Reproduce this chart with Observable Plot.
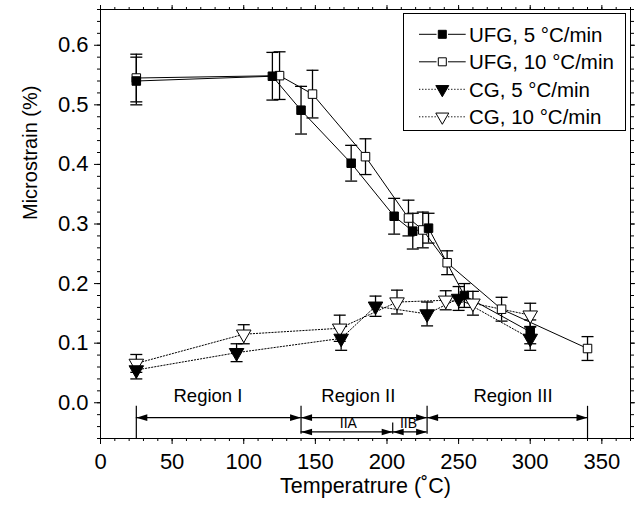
<!DOCTYPE html>
<html><head><meta charset="utf-8">
<script src="https://cdn.jsdelivr.net/npm/d3@7"></script>
<script src="https://cdn.jsdelivr.net/npm/@observablehq/plot@0.6"></script>
<style>
body{margin:0;background:#fff;}
#wrap{position:relative;width:635px;height:506px;font-family:"Liberation Sans",Arial,Helvetica,sans-serif;}
#legend{position:absolute;left:403px;top:13px;}
</style></head><body><div id="wrap"></div>
<script>
// ---- data (temperature °C, microstrain %, error %) ----
const seriesNames = ["UFG, 5 °C/min", "UFG, 10 °C/min", "CG, 5 °C/min", "CG, 10 °C/min"];

const ufg5T = [25, 120, 140, 175, 205, 218, 229, 254, 300];
const ufg5V = [0.540, 0.548, 0.491, 0.402, 0.313, 0.288, 0.293, 0.180, 0.119];
const ufg5E = [0.04, 0.04, 0.04, 0.03, 0.03, 0.03, 0.025, 0.02, 0.02];

const ufg10T = [25, 125, 148, 185, 215, 225, 242, 280, 340];
const ufg10V = [0.545, 0.549, 0.518, 0.413, 0.310, 0.290, 0.235, 0.157, 0.091];
const ufg10E = [0.04, 0.04, 0.04, 0.03, 0.03, 0.03, 0.02, 0.02, 0.02];

const cg5T = [25, 95, 168, 192, 228, 250, 300];
const cg5V = [0.055, 0.084, 0.108, 0.162, 0.149, 0.175, 0.108];
const cg5E = [0.015, 0.015, 0.02, 0.017, 0.02, 0.02, 0.02];

const cg10T = [25, 100, 167, 207, 241, 260, 300];
const cg10V = [0.066, 0.115, 0.125, 0.169, 0.172, 0.167, 0.147];
const cg10E = [0.015, 0.016, 0.022, 0.02, 0.016, 0.02, 0.02];

const xMajorTicks = [0, 50, 100, 150, 200, 250, 300, 350];
const yMajorTicks = [0.0, 0.1, 0.2, 0.3, 0.4, 0.5, 0.6];

// region annotation data
const regionBounds = [25, 140, 228, 340];
const regionNames = ["Region I", "Region II", "Region III"];
const regionLabelT = [75, 180, 288];
const subBounds = [140, 204, 228];
const subNames = ["IIA", "IIB"];
const subLabelT = [173, 215];
const regionArrowLevel = -0.025, subArrowLevel = -0.049;
const regionLabelLevel = 0.011, subLabelLevel = -0.035;
const lineTopLevel = -0.006, subLineTopLevel = -0.034, lineBottomLevel = -0.053;

// ---- build tables ----
function rows(name, T, V, E) { return T.map((t, i) => ({series: name, T: t, V: V[i], E: E[i]})); }
const ufg5 = rows(seriesNames[0], ufg5T, ufg5V, ufg5E);
const ufg10 = rows(seriesNames[1], ufg10T, ufg10V, ufg10E);
const cg5 = rows(seriesNames[2], cg5T, cg5V, cg5E);
const cg10 = rows(seriesNames[3], cg10T, cg10V, cg10E);
const all = [...ufg5, ...ufg10, ...cg5, ...cg10];
const caps = all.flatMap(d => [{T: d.T, V: d.V - d.E}, {T: d.T, V: d.V + d.E}]);

const intervals = [];
for (let i = 0; i < regionBounds.length - 1; i++) intervals.push({a: regionBounds[i], b: regionBounds[i + 1], V: regionArrowLevel});
for (let i = 0; i < subBounds.length - 1; i++) intervals.push({a: subBounds[i], b: subBounds[i + 1], V: subArrowLevel});
const headsL = intervals.map(d => ({T: d.a, V: d.V}));
const headsR = intervals.map(d => ({T: d.b, V: d.V}));
const vlines = [
  ...regionBounds.map((t, i) => ({T: t, y1: lineTopLevel, y2: (i === 0 || i === regionBounds.length - 1) ? -0.06 : lineBottomLevel})),
  ...subBounds.slice(1, -1).map(t => ({T: t, y1: subLineTopLevel, y2: lineBottomLevel}))
];
const regionLabels = regionNames.map((n, i) => ({name: n, T: regionLabelT[i], V: regionLabelLevel}));
const subLabels = subNames.map((n, i) => ({name: n, T: subLabelT[i], V: subLabelLevel}));

// custom symbols
const capSym = {draw(ctx) { ctx.moveTo(-6, 0); ctx.lineTo(6, 0); }};
const headRight = {draw(ctx) { ctx.moveTo(0, 0); ctx.lineTo(-11, -3.3); ctx.lineTo(-11, 3.3); ctx.closePath(); }};
const headLeft = {draw(ctx) { ctx.moveTo(0, 0); ctx.lineTo(11, -3.3); ctx.lineTo(11, 3.3); ctx.closePath(); }};

const font = "'Liberation Sans', Arial, Helvetica, sans-serif";

const chart = Plot.plot({
  width: 635, height: 506,
  marginLeft: 100, marginRight: 5, marginTop: 9, marginBottom: 68,
  style: {fontFamily: font, color: "black", background: "white", overflow: "visible"},
  x: {domain: [0, 370]},
  y: {domain: [-0.06, 0.66]},
  marks: [
    Plot.frame({stroke: "black", strokeWidth: 1}),
    // axes
    Plot.axisY({ticks: yMajorTicks, tickFormat: d3.format(".1f"), tickSize: 6, tickPadding: 6, fontSize: 22, label: null}),
    Plot.axisY({ticks: d3.range(-0.06, 0.661, 0.02), tickSize: 3, text: null, label: null}),
    Plot.axisY({anchor: "right", ticks: yMajorTicks, tickSize: 5, text: null, label: null}),
    Plot.axisY({anchor: "right", ticks: d3.range(-0.06, 0.661, 0.02), tickSize: 3, text: null, label: null}),
    Plot.axisX({ticks: xMajorTicks, tickSize: 6, tickPadding: 9, fontSize: 22, label: null}),
    Plot.axisX({ticks: d3.range(0, 371, 10), tickSize: 3, text: null, label: null}),
    Plot.axisX({anchor: "top", ticks: xMajorTicks, tickSize: 5, text: null, label: null}),
    Plot.axisX({anchor: "top", ticks: d3.range(0, 371, 10), tickSize: 3, text: null, label: null}),
    Plot.text(["Temperatrure (˚C)"], {frameAnchor: "bottom", dy: 54, fontSize: 21.5}),
    Plot.text(["Microstrain (%)"], {frameAnchor: "left", rotate: -90, dx: -70, dy: -4, fontSize: 20}),
    // region annotations
    Plot.ruleX(vlines, {x: "T", y1: "y1", y2: "y2", stroke: "black", strokeWidth: 1.2}),
    Plot.ruleY(intervals, {y: "V", x1: "a", x2: "b", stroke: "black", strokeWidth: 1.2}),
    Plot.dot(headsL, {x: "T", y: "V", symbol: headLeft, fill: "black", stroke: "none"}),
    Plot.dot(headsR, {x: "T", y: "V", symbol: headRight, fill: "black", stroke: "none"}),
    Plot.text(regionLabels, {x: "T", y: "V", text: "name", fontSize: 18.5}),
    Plot.text(subLabels, {x: "T", y: "V", text: "name", fontSize: 14, fill: "black"}),
    // data lines
    Plot.line([...ufg5, ...ufg10], {x: "T", y: "V", z: "series", stroke: "black", strokeWidth: 1}),
    Plot.line([...cg5, ...cg10], {x: "T", y: "V", z: "series", stroke: "black", strokeWidth: 1, strokeDasharray: "1.3,1.8"}),
    // error bars
    Plot.ruleX(all, {x: "T", y1: d => d.V - d.E, y2: d => d.V + d.E, stroke: "black", strokeWidth: 1.3}),
    Plot.dot(caps, {x: "T", y: "V", symbol: capSym, stroke: "black", strokeWidth: 1.3, fill: "none"}),
    // markers
    Plot.dot(ufg10, {x: "T", y: "V", symbol: "square", r: 4.8, fill: "white", stroke: "black", strokeWidth: 1}),
    Plot.dot(ufg5, {x: "T", y: "V", symbol: "square", r: 4.8, fill: "black", stroke: "black", strokeWidth: 1}),
    Plot.dot(cg10, {x: "T", y: "V", symbol: "triangle", rotate: 180, r: 5.4, fill: "white", stroke: "black", strokeWidth: 1}),
    Plot.dot(cg5, {x: "T", y: "V", symbol: "triangle", rotate: 180, r: 5.4, fill: "black", stroke: "black", strokeWidth: 1})
  ]
});
document.getElementById("wrap").appendChild(chart);

// ---- legend (overlay inside the plot frame) ----
const legendFill = ["black", "white", "black", "white"];
const legendSymbol = [d3.symbolSquare, d3.symbolSquare, d3.symbolTriangle, d3.symbolTriangle];
const legendDash = [null, null, "1.3,1.8", "1.3,1.8"];
const legendSize = [64, 64, 73, 73];
const lw = 223, lh = 118;
const leg = d3.select("#wrap").append("svg").attr("id", "legend")
  .attr("width", lw).attr("height", lh)
  .style("font-family", font);
leg.append("rect").attr("x", 0.5).attr("y", 0.5).attr("width", lw - 1).attr("height", lh - 1)
  .attr("fill", "white").attr("stroke", "black");
seriesNames.forEach((name, i) => {
  const cy = 21.3 + i * 27.5;
  const g = leg.append("g");
  [[16, 33.5], [45, 62.7]].forEach(([a, b]) => {
    g.append("line").attr("x1", a).attr("x2", b).attr("y1", cy).attr("y2", cy)
      .attr("stroke", "black").attr("stroke-width", 1).attr("stroke-dasharray", legendDash[i]);
  });
  g.append("path").attr("d", d3.symbol(legendSymbol[i], legendSize[i])())
    .attr("transform", `translate(39.3,${cy})` + (i >= 2 ? " rotate(180)" : ""))
    .attr("fill", legendFill[i]).attr("stroke", "black");
  g.append("text").attr("x", 66).attr("y", cy + 7.5).attr("font-size", 20.5).text(name);
});
</script>
</body></html>
